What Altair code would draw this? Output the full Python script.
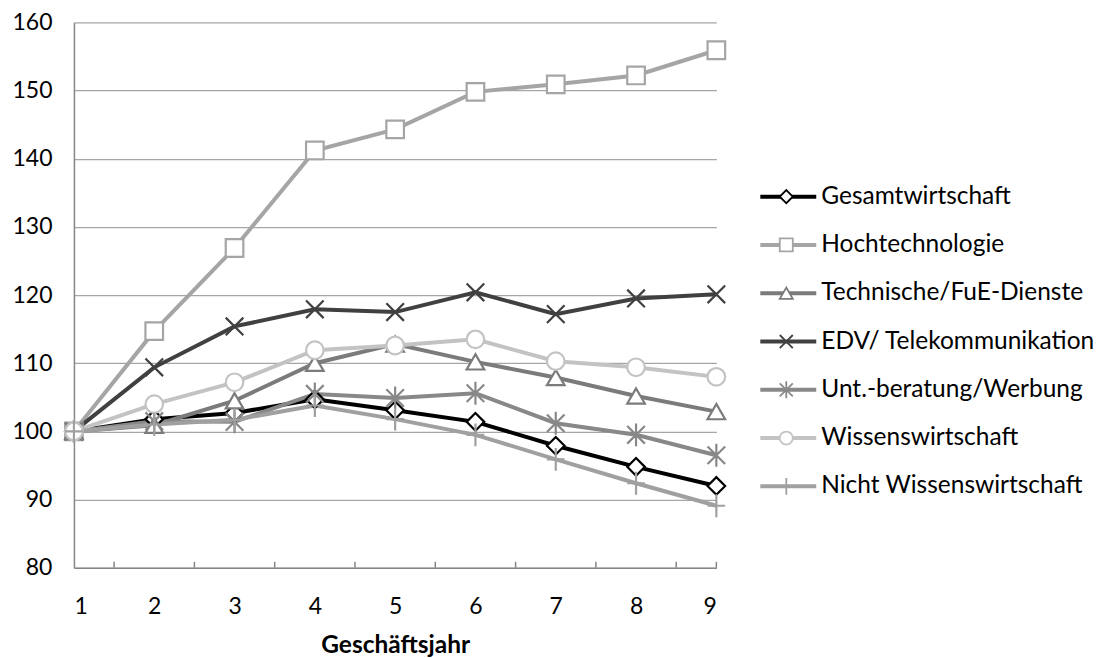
import altair as alt
import pandas as pd

years = [1, 2, 3, 4, 5, 6, 7, 8, 9]
series = [
    "Gesamtwirtschaft",
    "Hochtechnologie",
    "Technische/FuE-Dienste",
    "EDV/ Telekommunikation",
    "Unt.-beratung/Werbung",
    "Wissenswirtschaft",
    "Nicht Wissenswirtschaft",
]
gesamt = [100, 101.8, 102.7, 104.7, 103.1, 101.4, 97.9, 94.8, 92.0]
hochtech = [100, 114.7, 126.9, 141.2, 144.3, 149.8, 150.9, 152.2, 155.9]
technische = [100, 100.9, 104.5, 110.0, 112.8, 110.2, 107.9, 105.2, 102.9]
edv = [100, 109.4, 115.4, 117.9, 117.5, 120.4, 117.2, 119.5, 120.1]
unt = [100, 101.5, 101.4, 105.5, 104.9, 105.6, 101.2, 99.5, 96.5]
wissens = [100, 104.0, 107.2, 111.9, 112.6, 113.5, 110.3, 109.4, 108.0]
nicht = [100, 101.0, 101.7, 103.8, 101.8, 99.5, 95.9, 92.4, 89.1]
values = [gesamt, hochtech, technische, edv, unt, wissens, nicht]

colors = ["#000000", "#a5a5a5", "#7b7b7b", "#404040", "#888888", "#c3c3c3", "#a0a0a0"]
shapes = [
    "diamond",
    "square",
    "triangle-up",
    "M-1,-1L1,1M-1,1L1,-1",
    "M-1,-1L1,1M-1,1L1,-1M0,-1.3L0,1.3",
    "circle",
    "M-1,0L1,0M0,-1.3L0,1.3",
]
x_tick_marks = [1.5, 2.5, 3.5, 4.5, 5.5, 6.5, 7.5, 8.5, 9]

rows = []
for s, vals in zip(series, values):
    for yr, v in zip(years, vals):
        rows.append({"Jahr": yr, "Serie": s, "Wert": v})
df = pd.DataFrame(rows)

FONT = "Lato"
W, H = 643, 546

color_scale = alt.Scale(domain=series, range=colors)
shape_scale = alt.Scale(domain=series, range=shapes)
xscale = alt.Scale(domain=[1, 9], nice=False, zero=False)
yscale = alt.Scale(domain=[80, 160], nice=False, zero=False)

base = alt.Chart(df)

lines = base.mark_line(strokeWidth=4).encode(
    x=alt.X("Jahr:Q", scale=xscale,
            axis=alt.Axis(values=years, format="d", ticks=False, grid=False,
                          domainColor="#868686", domainWidth=1.5,
                          labelFont=FONT, labelFontSize=23, labelColor="#000000",
                          labelPadding=28, title="Geschäftsjahr", titleFont=FONT,
                          titleFontSize=24.5, titleFontWeight="bold", titleColor="#000000",
                          titlePadding=15)),
    y=alt.Y("Wert:Q", scale=yscale,
            axis=alt.Axis(values=list(range(80, 161, 10)), ticks=False, grid=True,
                          gridColor="#a6a6a6", gridWidth=1.3,
                          domainColor="#868686", domainWidth=1.5,
                          labelFont=FONT, labelFontSize=23, labelColor="#000000",
                          labelPadding=22, title=None)),
    color=alt.Color("Serie:N", scale=color_scale, legend=None),
    detail="Serie:N",
)

points = base.mark_point(fill="white", fillOpacity=1, strokeWidth=2.2, size=310, opacity=1).encode(
    x=alt.X("Jahr:Q", scale=xscale),
    y=alt.Y("Wert:Q", scale=yscale),
    stroke=alt.Stroke("Serie:N", scale=color_scale, legend=None),
    shape=alt.Shape("Serie:N", scale=shape_scale, legend=None),
)

ticks_df = pd.DataFrame({"t": x_tick_marks})
xticks = alt.Chart(ticks_df).mark_rule(color="#868686", strokeWidth=1.5).encode(
    x=alt.X("t:Q", scale=xscale),
    y=alt.value(H),
    y2=alt.value(H - 6),
)

main = alt.layer(xticks, lines, points).properties(width=W, height=H)

# legend
LW = 372
leg_df = pd.DataFrame({"Serie": series, "i": list(range(len(series)))})
leg_df["x0"] = 44
leg_df["x1"] = 100
leg_df["xm"] = 70
leg_df["xt"] = 105
lx = alt.Scale(domain=[0, LW], nice=False, zero=False)
ly = alt.Scale(domain=[-3.611, 7.686], nice=False, zero=False, reverse=True)
lbase = alt.Chart(leg_df)
leg_line = lbase.mark_rule(strokeWidth=4).encode(
    x=alt.X("x0:Q", scale=lx, axis=None),
    x2="x1:Q",
    y=alt.Y("i:Q", scale=ly, axis=None),
    color=alt.Color("Serie:N", scale=color_scale, legend=None),
)
leg_pt = lbase.mark_point(fill="white", fillOpacity=1, strokeWidth=1.8, size=170, opacity=1).encode(
    x=alt.X("xm:Q", scale=lx, axis=None),
    y=alt.Y("i:Q", scale=ly, axis=None),
    stroke=alt.Stroke("Serie:N", scale=color_scale, legend=None),
    shape=alt.Shape("Serie:N", scale=shape_scale, legend=None),
)
leg_txt = lbase.mark_text(align="left", baseline="middle", font=FONT, fontSize=24.5, color="#000000").encode(
    x=alt.X("xt:Q", scale=lx, axis=None),
    y=alt.Y("i:Q", scale=ly, axis=None),
    text="Serie:N",
)
legend = alt.layer(leg_line, leg_pt, leg_txt).properties(width=LW, height=H)

chart = alt.hconcat(main, legend, spacing=0, bounds="flush").resolve_scale(
    color="shared", shape="shared"
).configure(
    padding={"left": 3, "top": 3, "right": 0, "bottom": 0}
).configure_view(stroke=None)

chart.save("out.html", embed_options={"renderer": "svg", "actions": False})
